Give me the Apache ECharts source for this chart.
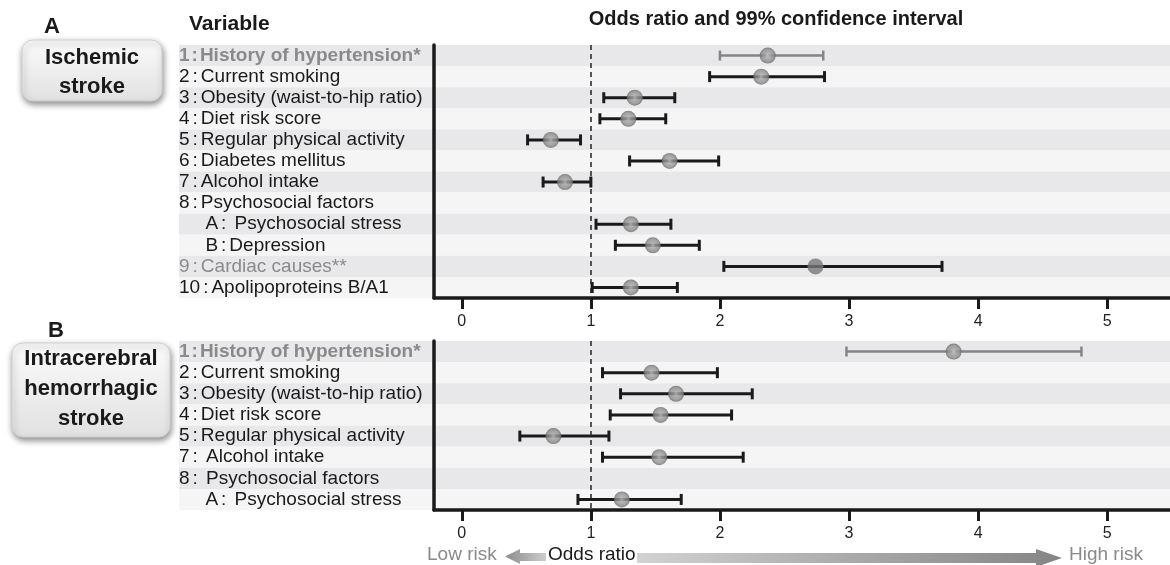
<!DOCTYPE html>
<html><head><meta charset="utf-8">
<script src="https://cdn.jsdelivr.net/npm/echarts@6/dist/echarts.min.js"></script>
<style>html,body{margin:0;padding:0;background:#fff}#c{width:1170px;height:565px}</style>
</head><body><div id="c"></div>
<script>
// ---------- data ----------
const labelsA = [
  "1:History of hypertension*",
  "2:Current smoking",
  "3:Obesity (waist-to-hip ratio)",
  "4:Diet risk score",
  "5:Regular physical activity",
  "6:Diabetes mellitus",
  "7:Alcohol intake",
  "8:Psychosocial factors",
  "     A: Psychosocial stress",
  "     B:Depression",
  "9:Cardiac causes**",
  "10:Apolipoproteins B/A1"
];
const orA = [2.37, 2.32, 1.34, 1.29, 0.69, 1.61, 0.80, null, 1.31, 1.48, 2.74, 1.31];
const loA = [2.00, 1.92, 1.10, 1.07, 0.51, 1.30, 0.63, null, 1.04, 1.19, 2.03, 1.01];
const hiA = [2.80, 2.81, 1.65, 1.58, 0.92, 1.99, 1.00, null, 1.62, 1.84, 3.72, 1.67];

const labelsB = [
  "1:History of hypertension*",
  "2:Current smoking",
  "3:Obesity (waist-to-hip ratio)",
  "4:Diet risk score",
  "5:Regular physical activity",
  "7: Alcohol intake",
  "8: Psychosocial factors",
  "     A: Psychosocial stress"
];
const orB = [3.81, 1.47, 1.66, 1.54, 0.71, 1.53, null, 1.24];
const loB = [2.98, 1.09, 1.23, 1.15, 0.45, 1.09, null, 0.90];
const hiB = [4.80, 1.98, 2.25, 2.09, 1.14, 2.18, null, 1.70];

const xTicks = [0, 1, 2, 3, 4, 5];
const refLine = 1;
const highlightRow = 0;      // hypertension row (grey)
const solidRowA = 10;        // cardiac causes (solid marker)

// ---------- styling helpers ----------
const FF = "'Liberation Sans', Arial, sans-serif";
const X_MIN = -0.215, X_MAX = 5.486;
const bandColors = ['#e8e8ea', '#f5f5f5'];

function fmtLabel(v) {
  const i = v.indexOf(':');
  const pre = v.slice(0, i), post = v.slice(i + 1);
  let st = 't';
  if (/^\s*1$/.test(pre) && post.indexOf('hypertension') >= 0) st = 'h';
  else if (post.indexOf('**') >= 0) st = 'g';
  return '{' + st + '|' + pre + '}{' + st + 'c|:}{' + st + '|' + post + '}';
}
const richLbl = {
  t: {fontSize: 19, color: '#1a1a1a', fontFamily: FF},
  tc: {fontSize: 19, color: '#1a1a1a', fontFamily: FF, padding: [0, 3, 0, 3]},
  h: {fontSize: 19, color: '#8a8a8a', fontFamily: FF, fontWeight: 'bold'},
  hc: {fontSize: 19, color: '#8a8a8a', fontFamily: FF, fontWeight: 'bold', padding: [0, 2, 0, 2]},
  g: {fontSize: 19, color: '#8a8a8a', fontFamily: FF},
  gc: {fontSize: 19, color: '#8a8a8a', fontFamily: FF, padding: [0, 3, 0, 3]}
};

function errRender(params, api) {
  const idx = api.value(2);
  const a = api.coord([api.value(0), idx]);
  const b = api.coord([api.value(1), idx]);
  const gray = idx === highlightRow;
  const style = {stroke: gray ? '#858585' : '#1a1a1a', lineWidth: gray ? 2.5 : 3};
  const h = gray ? 5 : 5.5;
  return {type: 'group', children: [
    {type: 'line', shape: {x1: a[0], y1: a[1], x2: b[0], y2: b[1]}, style: style},
    {type: 'line', shape: {x1: a[0], y1: a[1] - h, x2: a[0], y2: a[1] + h}, style: style},
    {type: 'line', shape: {x1: b[0], y1: b[1] - h, x2: b[0], y2: b[1] + h}, style: style}
  ]};
}

const sphere = {
  type: 'radial', x: 0.5, y: 0.5, r: 0.5,
  colorStops: [
    {offset: 0, color: '#d0d0d0'},
    {offset: 0.3, color: '#a5a5a5'},
    {offset: 0.75, color: '#8c8c8c'},
    {offset: 1, color: '#666666'}
  ]
};

function errData(lo, hi) {
  const d = [];
  lo.forEach((v, i) => { if (v != null) d.push([v, hi[i], i]); });
  return d;
}
function ptData(or, skip) {
  const d = [];
  or.forEach((v, i) => { if (v != null && i !== skip) d.push([v, i]); });
  return d;
}

const grids = [
  {left: 179, width: 255, top: 45, height: 253},
  {left: 434, right: 0, top: 45, height: 253},
  {left: 179, width: 255, top: 341, height: 169},
  {left: 434, right: 0, top: 341, height: 169}
].map(g => Object.assign({containLabel: false, outerBoundsMode: 'none'}, g));

function bandX(gi) { return {gridIndex: gi, type: 'value', show: false, min: 0, max: 1}; }
function mainX(gi) {
  return {
    gridIndex: gi, type: 'value', min: X_MIN, max: X_MAX,
    axisLine: {show: true, onZero: false, lineStyle: {color: '#1a1a1a', width: 3.5}},
    axisTick: {show: true, length: 11, customValues: xTicks, lineStyle: {color: '#1a1a1a', width: 3}},
    axisLabel: {customValues: xTicks, fontSize: 16, color: '#222', margin: 16, fontFamily: FF},
    splitLine: {show: false}
  };
}
function bandY(gi, labels) {
  return {
    gridIndex: gi, type: 'category', inverse: true, data: labels,
    axisLine: {show: false}, axisTick: {show: false}, axisLabel: {show: false},
    splitLine: {show: false}, splitArea: {show: true, areaStyle: {color: bandColors}}
  };
}
function mainY(gi, labels) {
  return {
    gridIndex: gi, type: 'category', inverse: true, data: labels,
    axisLine: {show: true, onZero: false, lineStyle: {color: '#1a1a1a', width: 3.5}},
    axisTick: {show: false},
    axisLabel: {margin: 255, align: 'left', formatter: fmtLabel, rich: richLbl, interval: 0},
    splitLine: {show: false}, splitArea: {show: true, areaStyle: {color: bandColors}}
  };
}

const dashed = {
  silent: true, symbol: ['none', 'none'], label: {show: false},
  lineStyle: {type: [5, 4], color: '#222', width: 1.5},
  data: [{xAxis: refLine}]
};

const series = [
  {type: 'custom', xAxisIndex: 1, yAxisIndex: 1, renderItem: errRender,
   encode: {x: [0, 1], y: 2}, data: errData(loA, hiA), z: 3},
  {type: 'scatter', xAxisIndex: 1, yAxisIndex: 1, symbolSize: 16,
   itemStyle: {color: sphere}, data: ptData(orA, solidRowA), z: 4, markLine: dashed},
  {type: 'scatter', xAxisIndex: 1, yAxisIndex: 1, symbolSize: 16,
   itemStyle: {color: '#777777'}, data: [[orA[solidRowA], solidRowA]], z: 4},
  {type: 'custom', xAxisIndex: 3, yAxisIndex: 3, renderItem: errRender,
   encode: {x: [0, 1], y: 2}, data: errData(loB, hiB), z: 3},
  {type: 'scatter', xAxisIndex: 3, yAxisIndex: 3, symbolSize: 16,
   itemStyle: {color: sphere}, data: ptData(orB, -1), z: 4, markLine: dashed}
];

function boxText(lines, cx, ys) {
  return lines.map((t, i) => ({
    type: 'text', x: cx, y: ys[i], z: 101,
    style: {text: t, fill: '#1a1a1a', font: 'bold 22px ' + FF, textAlign: 'center', textVerticalAlign: 'middle'}
  }));
}
function box(x, y, w, h) {
  return {
    type: 'rect', z: 100, shape: {x: x, y: y, width: w, height: h, r: 11},
    style: {
      fill: {type: 'linear', x: 0, y: 0, x2: 0, y2: 1, colorStops: [
        {offset: 0, color: '#fbfbfb'}, {offset: 1, color: '#e1e1e1'}]},
      stroke: '#d0d0d0', lineWidth: 1,
      shadowBlur: 6, shadowOffsetX: 1, shadowOffsetY: 3, shadowColor: 'rgba(0,0,0,0.45)'
    }
  };
}
function txt(t, x, y, font, fill, align) {
  return {type: 'text', x: x, y: y, z: 101,
    style: {text: t, font: font, fill: fill, textAlign: align || 'left', textVerticalAlign: 'middle'}};
}

const graphic = [
  txt('A', 52, 27, 'bold 22px ' + FF, '#1a1a1a', 'center'),
  txt('Variable', 189, 24, 'bold 21px ' + FF, '#1a1a1a'),
  txt('Odds ratio and 99% confidence interval', 776, 19, 'bold 20px ' + FF, '#1a1a1a', 'center'),
  txt('B', 56, 331, 'bold 22px ' + FF, '#1a1a1a', 'center'),
  box(22, 40, 140, 61),
  ...boxText(['Ischemic', 'stroke'], 92, [58, 87]),
  box(12, 343, 158, 94),
  ...boxText(['Intracerebral', 'hemorrhagic', 'stroke'], 91, [359, 389, 419]),
  txt('Low risk', 427, 555, '19px ' + FF, '#8a8a8a'),
  {type: 'polygon', z: 100, shape: {points: [[505, 556.5], [520, 549], [520, 553], [546, 553], [546, 561], [520, 561], [520, 564]]},
   style: {fill: {type: 'linear', x: 0, y: 0, x2: 1, y2: 0, colorStops: [
     {offset: 0, color: '#8c8c8c'}, {offset: 1, color: '#cdcdcd'}]}}},
  txt('Odds ratio', 548, 555, '19px ' + FF, '#1a1a1a'),
  {type: 'polygon', z: 100, shape: {points: [[637, 553], [1036, 553], [1036, 549], [1062, 558], [1036, 567], [1036, 563], [637, 563]]},
   style: {fill: {type: 'linear', x: 0, y: 0, x2: 1, y2: 0, colorStops: [
     {offset: 0, color: '#d2d2d2'}, {offset: 0.5, color: '#aaaaaa'}, {offset: 1, color: '#858585'}]}}},
  txt('High risk', 1069, 555, '19px ' + FF, '#8a8a8a')
];

const chart = echarts.init(document.getElementById('c'), null, {renderer: 'canvas'});
chart.setOption({
  animation: false,
  backgroundColor: '#ffffff',
  textStyle: {fontFamily: FF},
  grid: grids,
  xAxis: [bandX(0), mainX(1), bandX(2), mainX(3)],
  yAxis: [bandY(0, labelsA), mainY(1, labelsA), bandY(2, labelsB), mainY(3, labelsB)],
  series: series,
  graphic: graphic
});
</script>
</body></html>
